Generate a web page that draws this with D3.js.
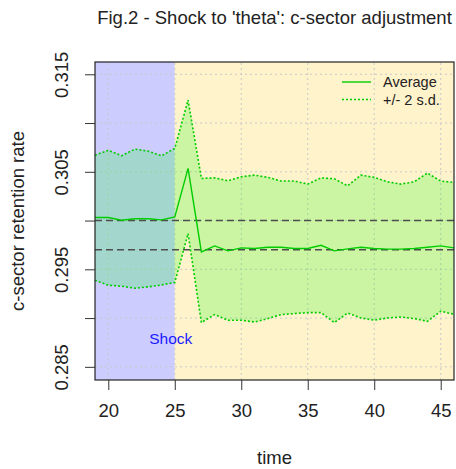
<!DOCTYPE html>
<html>
<head>
<meta charset="utf-8">
<script src="https://cdn.jsdelivr.net/npm/d3@7"></script>
<style>
  body { margin: 0; background: #fff; }
  text { font-family: "Liberation Sans", Arial, sans-serif; fill: #222; }
</style>
</head>
<body>
<svg id="chart" width="456" height="469"></svg>
<script>
// data
const time = [19, 20, 21, 22, 23, 24, 25, 26, 27, 28, 29, 30, 31, 32, 33, 34, 35, 36, 37, 38, 39, 40, 41, 42, 43, 44, 45, 46];
const average = [0.30032, 0.30032, 0.30004, 0.30018, 0.30018, 0.30007, 0.30038, 0.30535, 0.29679, 0.29740,
  0.29689, 0.29720, 0.29714, 0.29727, 0.29727, 0.29714, 0.29714, 0.29747, 0.29689, 0.29710,
  0.29727, 0.29714, 0.29707, 0.29707, 0.29714, 0.29727, 0.29740, 0.29720];
const upper = [0.30671, 0.30720, 0.30664, 0.30733, 0.30712, 0.30664, 0.30740, 0.31236, 0.30432, 0.30438,
  0.30408, 0.30449, 0.30466, 0.30443, 0.30405, 0.30405, 0.30374, 0.30438, 0.30428, 0.30356,
  0.30466, 0.30443, 0.30397, 0.30374, 0.30397, 0.30487, 0.30405, 0.30391];
const lower = [0.29388, 0.29337, 0.29327, 0.29306, 0.29320, 0.29340, 0.29365, 0.29867, 0.28954, 0.29036,
  0.28978, 0.28978, 0.28960, 0.28995, 0.29036, 0.29046, 0.29056, 0.29056, 0.28954, 0.29052,
  0.29001, 0.28978, 0.29001, 0.29011, 0.28995, 0.28967, 0.29070, 0.29039];
const refLines = [0.300, 0.297];
const shockTime = 25;
const xTicks = [20, 25, 30, 35, 40, 45];
const yTicks = [0.285, 0.290, 0.295, 0.300, 0.305, 0.310, 0.315];
const yTickLabels = ['0.285', '', '0.295', '', '0.305', '', '0.315'];
const legendLabels = ['Average', '+/- 2 s.d.'];

const green = '#00cd00';
const margin = { top: 62, right: 2, bottom: 89, left: 95 };
const width = 456, height = 469;

const svg = d3.select('#chart');

const x = d3.scaleLinear().domain([19, 46]).range([margin.left, width - margin.right]);
const y = d3.scaleLinear().domain([0.28365, 0.31626]).range([height - margin.bottom, margin.top]);

const [x0, x1] = x.range();
const [y0, y1] = y.range();

// background regions
svg.append('rect')
  .attr('x', x0).attr('y', y1)
  .attr('width', x(shockTime) - x0).attr('height', y0 - y1)
  .attr('fill', '#ccccff');
svg.append('rect')
  .attr('x', x(shockTime)).attr('y', y1)
  .attr('width', x1 - x(shockTime)).attr('height', y0 - y1)
  .attr('fill', '#fff3cc');

// grid
const grid = svg.append('g').attr('stroke', '#c8c8c8').attr('stroke-dasharray', '2,3').attr('stroke-width', 1);
xTicks.forEach(t => {
  grid.append('line').attr('x1', x(t)).attr('x2', x(t)).attr('y1', y0).attr('y2', y1);
});
yTicks.forEach(t => {
  grid.append('line').attr('x1', x0).attr('x2', x1).attr('y1', y(t)).attr('y2', y(t));
});

const rows = time.map((t, i) => ({ t, avg: average[i], hi: upper[i], lo: lower[i] }));

// band
svg.append('path')
  .datum(rows)
  .attr('fill', 'rgba(0,255,0,0.2)')
  .attr('d', d3.area().x(d => x(d.t)).y0(d => y(d.lo)).y1(d => y(d.hi)));

// reference lines
refLines.forEach(v => {
  svg.append('line')
    .attr('x1', x0).attr('x2', x1).attr('y1', y(v)).attr('y2', y(v))
    .attr('stroke', '#4d4d4d').attr('stroke-width', 1.6).attr('stroke-dasharray', '7,4');
});

// bounds and average
['hi', 'lo'].forEach(k => {
  svg.append('path')
    .datum(rows)
    .attr('fill', 'none').attr('stroke', green).attr('stroke-width', 1.6)
    .attr('stroke-dasharray', '2,2')
    .attr('d', d3.line().x(d => x(d.t)).y(d => y(d[k])));
});
svg.append('path')
  .datum(rows)
  .attr('fill', 'none').attr('stroke', green).attr('stroke-width', 1.4)
  .attr('d', d3.line().x(d => x(d.t)).y(d => y(d.avg)));

// shock label
svg.append('text')
  .attr('x', x(shockTime) - 4).attr('y', 344)
  .attr('text-anchor', 'middle')
  .style('fill', '#1a1aff').style('font-size', '15.5px')
  .text('Shock');

// box
svg.append('rect')
  .attr('x', x0).attr('y', y1).attr('width', x1 - x0).attr('height', y0 - y1)
  .attr('fill', 'none').attr('stroke', '#222').attr('stroke-width', 1.2);

// axes
const xAxis = svg.append('g')
  .attr('transform', `translate(0,${y0})`)
  .call(d3.axisBottom(x).tickValues(xTicks).tickSize(10).tickPadding(14).tickFormat(d3.format('d')));
xAxis.select('.domain').remove();
xAxis.selectAll('text').style('font-size', '18.5px').style('fill', '#222');
xAxis.selectAll('line').attr('stroke', '#333');

const yAxis = svg.append('g')
  .attr('transform', `translate(${x0},0)`)
  .call(d3.axisLeft(y).tickValues(yTicks).tickSize(10).tickFormat((d, i) => yTickLabels[i]));
yAxis.select('.domain').remove();
yAxis.selectAll('line').attr('stroke', '#333');
yAxis.selectAll('text')
  .attr('x', null).attr('dy', null)
  .attr('text-anchor', 'middle')
  .attr('transform', 'translate(-27,0) rotate(-90)')
  .style('font-size', '18.5px').style('fill', '#222');

// titles
svg.append('text')
  .attr('x', (x0 + x1) / 2).attr('y', 24)
  .attr('text-anchor', 'middle').style('font-size', '18.5px')
  .text("Fig.2 - Shock to 'theta': c-sector adjustment");
svg.append('text')
  .attr('x', (x0 + x1) / 2).attr('y', 464)
  .attr('text-anchor', 'middle').style('font-size', '18.5px')
  .text('time');
svg.append('text')
  .attr('transform', `translate(24,${(y0 + y1) / 2}) rotate(-90)`)
  .attr('text-anchor', 'middle').style('font-size', '18.5px')
  .text('c-sector retention rate');

// legend
const legend = svg.append('g');
legendLabels.forEach((lab, i) => {
  const ly = 82 + i * 17.5;
  legend.append('line')
    .attr('x1', 342).attr('x2', 371).attr('y1', ly).attr('y2', ly)
    .attr('stroke', green).attr('stroke-width', 1.4)
    .attr('stroke-dasharray', i === 0 ? null : '2,2');
  legend.append('text')
    .attr('x', 383).attr('y', ly + 5)
    .style('font-size', '14.5px')
    .text(lab);
});
</script>
</body>
</html>
